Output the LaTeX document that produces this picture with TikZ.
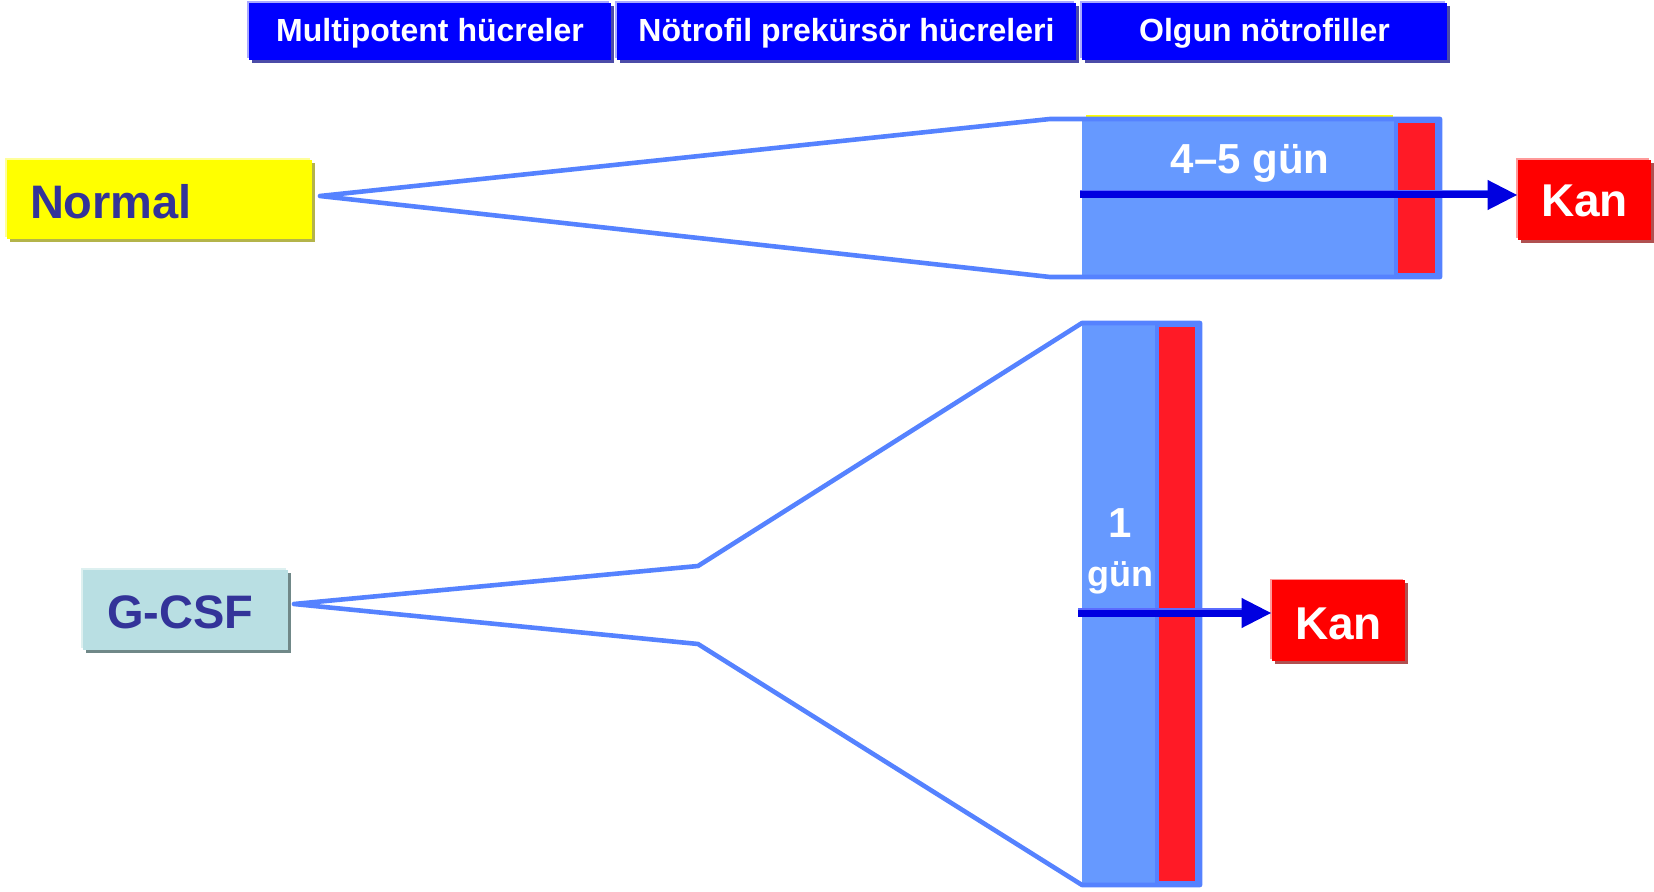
\documentclass[tikz,border=0pt]{standalone}
\usepackage{fontspec}
\setmainfont{Liberation Sans}
\usetikzlibrary{shadows,arrows.meta}

\definecolor{hdrblue}{HTML}{0000FF}
\definecolor{hdrshade}{HTML}{4B4BA8}
\definecolor{hdrlight}{HTML}{A8A8FF}
\definecolor{lbltext}{HTML}{333399}
\definecolor{normfill}{HTML}{FFFF00}
\definecolor{normshade}{HTML}{B4B44A}
\definecolor{normlight}{HTML}{FFFF99}
\definecolor{gfill}{HTML}{B9DFE3}
\definecolor{gshade}{HTML}{708888}
\definecolor{glight}{HTML}{DDF0F0}
\definecolor{kanfill}{HTML}{FF0000}
\definecolor{kanshade}{HTML}{B05050}
\definecolor{kanlight}{HTML}{FF9A9A}
\definecolor{funnelc}{HTML}{5582FF}
\definecolor{cellblue}{HTML}{6699FF}
\definecolor{cellred}{HTML}{FF1A26}
\definecolor{arrowc}{HTML}{0000E0}
\definecolor{arrowhalo}{HTML}{5A6BFF}

% lower the ink of a text without changing its reported size
\newcommand\dropby[2]{\raisebox{-#1}[\height][\depth]{#2}}

\begin{document}
\begin{tikzpicture}[x=0.5pt,y=-0.5pt,
  hdr/.style={fill=hdrblue, text=white, inner sep=0pt,
    font=\fontsize{16}{18}\selectfont\bfseries, minimum height=28.5pt,
    general shadow={fill=hdrshade, shadow xshift=1.5pt, shadow yshift=-1.5pt},
    general shadow={fill=hdrlight, shadow xshift=-0.8pt, shadow yshift=0.8pt}},
  lbl/.style={text=lbltext, inner ysep=0pt, align=left,
    font=\fontsize{23.5}{26}\selectfont\bfseries},
  kan/.style={fill=kanfill, text=white, inner sep=0pt,
    font=\fontsize{23}{26}\selectfont\bfseries,
    minimum width=66.5pt, minimum height=40pt,
    general shadow={fill=kanshade, shadow xshift=1.5pt, shadow yshift=-1.5pt},
    general shadow={fill=kanlight, shadow xshift=-0.8pt, shadow yshift=0.8pt}},
  funnel/.style={draw=funnelc, line width=2.3pt, line join=round},
  cell/.style={text=white, font=\bfseries, inner sep=0pt},
  flow/.style={draw=arrowc, line width=3.5pt,
    -{Triangle[length=15pt,width=14pt]}},
  halo/.style={draw=arrowhalo, line width=2.5pt}
]
\useasboundingbox (0,0) rectangle (1654,892);

% column headers
\node[hdr, minimum width=181pt]   (h1) at (430,31.5)   {\dropby{1pt}{Multipotent hücreler}};
\node[hdr, minimum width=229.5pt] (h2) at (846.5,31.5) {\dropby{1pt}{Nötrofil prekürsör hücreleri}};
\node[hdr, minimum width=182.5pt] (h3) at (1264.5,31.5) {\dropby{1pt}{Olgun nötrofiller}};

% condition labels
\node[lbl, fill=normfill, minimum height=39.5pt, inner xsep=11.5pt, text width=129.5pt,
  general shadow={fill=normshade, shadow xshift=1.5pt, shadow yshift=-1.5pt},
  general shadow={fill=normlight, shadow xshift=-0.8pt, shadow yshift=0.8pt}]
  (normal) at (159.5,199.5) {\dropby{1.1pt}{Normal}};
\node[lbl, fill=gfill, minimum height=40pt, inner xsep=12pt, text width=78.5pt,
  general shadow={fill=gshade, shadow xshift=1.5pt, shadow yshift=-1.5pt},
  general shadow={fill=glight, shadow xshift=-0.8pt, shadow yshift=0.8pt}]
  (gcsf) at (185.5,610) {\dropby{1pt}{G-CSF}};

% blood compartments
\node[kan] (kan1) at (1584.5,200)   {\dropby{0.6pt}{Kan}};
\node[kan] (kan2) at (1338.5,620.5) {\dropby{1.5pt}{Kan}};

% normal maturation: narrow funnel into a long, wide pool
\coordinate (nA) at (320,196);
\fill[cellblue] (1082,119) rectangle (1395,277);
\draw[normfill, line width=0.7pt] (1086,116) -- (1393,116);
\draw[funnel, fill=cellred] (1396,121) rectangle (1437,275);
\draw[funnel] (nA) -- (1050,119) -- (1440,119) -- (1440,277) -- (1050,277) -- cycle;
\node[cell, font=\fontsize{21}{24}\selectfont\bfseries] (t45) at (1250,163) {4–5 gün};

\coordinate (a1) at (1080,195);
\draw[halo] ([yshift=1.2pt]a1) -- ([xshift=-15pt,yshift=1.2pt]a1 -| kan1.west);
\draw[flow] (a1) -- (a1 -| kan1.west);

% G-CSF: expanded precursor pool, short transit
\coordinate (gA) at (294,604);
\fill[cellblue] (1082,323) rectangle (1156,885);
\draw[funnel, fill=cellred] (1157,325) rectangle (1197,883);
\draw[funnel] (gA) -- (698,566) -- (1082,323) -- (1200,323) -- (1200,885)
  -- (1082,885) -- (698,644) -- cycle;
\node[cell, font=\fontsize{21}{24}\selectfont\bfseries] (t1) at (1120,523) {1};
\node[cell, font=\fontsize{18}{20}\selectfont\bfseries] (tg) at (1120,578) {gün};

\coordinate (a2) at (1078,613);
\draw[halo] ([yshift=1.2pt]a2) -- ([xshift=-15pt,yshift=1.2pt]a2 -| kan2.west);
\draw[flow] (a2) -- (a2 -| kan2.west);
\end{tikzpicture}
\end{document}
